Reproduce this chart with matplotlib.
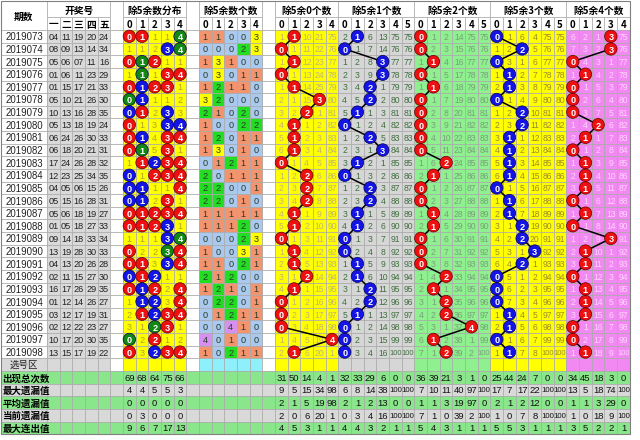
import matplotlib
matplotlib.use("Agg")
import matplotlib.pyplot as plt
from matplotlib.patches import Rectangle, Circle

CJK = ["Noto Sans CJK SC", "DejaVu Sans"]
NUM = ["Liberation Sans", "DejaVu Sans"]

periods = ["2019073", "2019074", "2019075", "2019076", "2019077", "2019078", "2019079",
           "2019080", "2019081", "2019082", "2019083", "2019084", "2019085", "2019086",
           "2019087", "2019088", "2019089", "2019090", "2019091", "2019092", "2019093",
           "2019094", "2019095", "2019096", "2019097", "2019098"]

draws = ["04 11 19 20 24", "08 09 13 14 34", "05 06 07 11 16", "01 06 11 23 29",
         "01 15 17 21 33", "05 10 21 26 30", "10 13 16 28 35", "05 13 18 19 24",
         "06 24 26 30 33", "06 18 20 21 31", "17 24 26 28 32", "12 23 25 34 35",
         "04 05 06 15 26", "05 15 16 28 31", "05 06 18 19 27", "01 05 18 27 33",
         "09 14 18 33 34", "13 19 28 30 33", "04 13 20 26 28", "02 11 15 27 30",
         "16 17 26 29 35", "01 12 14 26 27", "03 12 17 19 31", "02 12 22 23 27",
         "10 17 20 30 35", "13 15 17 19 22"]

# how many of the five numbers leave remainder 0..4
counts = [[1, 1, 0, 0, 3], [0, 0, 0, 2, 3], [1, 3, 1, 0, 0], [0, 3, 0, 1, 1], [1, 2, 1, 1, 0],
          [3, 2, 0, 0, 0], [2, 1, 0, 2, 0], [1, 0, 0, 2, 2], [1, 2, 0, 1, 1], [1, 3, 0, 1, 0],
          [0, 1, 2, 1, 1], [2, 0, 1, 1, 1], [2, 2, 0, 0, 1], [2, 2, 0, 1, 0], [1, 1, 1, 1, 1],
          [1, 1, 1, 2, 0], [0, 0, 0, 2, 3], [1, 0, 0, 3, 1], [1, 1, 0, 2, 1], [2, 1, 2, 0, 0],
          [1, 2, 1, 0, 1], [0, 2, 2, 0, 1], [0, 1, 2, 1, 1], [0, 0, 4, 1, 0], [4, 0, 1, 0, 0],
          [1, 0, 2, 1, 1]]

# omission values, 0 = drawn (ball)
dist_omit = [[0, 0, 1, 1, 0], [1, 1, 2, 0, 0], [0, 0, 0, 1, 1], [1, 0, 1, 0, 0], [0, 0, 0, 0, 1],
             [0, 0, 1, 1, 2], [0, 0, 2, 0, 3], [0, 1, 3, 0, 0], [0, 0, 4, 0, 0], [0, 0, 5, 0, 1],
             [1, 0, 0, 0, 0], [0, 1, 0, 0, 0], [0, 0, 1, 1, 0], [0, 0, 2, 0, 1], [0, 0, 0, 0, 0],
             [0, 0, 0, 0, 1], [1, 1, 1, 0, 0], [0, 2, 2, 0, 0], [0, 0, 3, 0, 0], [0, 0, 0, 1, 1],
             [0, 0, 0, 2, 0], [1, 0, 0, 3, 0], [2, 0, 0, 0, 0], [3, 1, 0, 0, 1], [0, 2, 0, 1, 2],
             [0, 3, 0, 0, 0]]

r0_omit = [[1, 0, 10, 21, 75], [0, 1, 11, 22, 76], [1, 0, 12, 23, 77], [0, 1, 13, 24, 78],
           [1, 0, 14, 25, 79], [2, 1, 15, 0, 80], [3, 2, 0, 1, 81], [4, 0, 1, 2, 82],
           [5, 0, 2, 3, 83], [6, 0, 3, 4, 84], [0, 1, 4, 5, 85], [1, 2, 0, 6, 86],
           [2, 3, 0, 7, 87], [3, 4, 0, 8, 88], [4, 0, 1, 9, 89], [5, 0, 2, 10, 90],
           [0, 1, 3, 11, 91], [1, 0, 4, 12, 92], [2, 0, 5, 13, 93], [3, 1, 0, 14, 94],
           [4, 0, 1, 15, 95], [0, 1, 2, 16, 96], [0, 2, 3, 17, 97], [0, 3, 4, 18, 98],
           [1, 4, 5, 19, 0], [2, 0, 6, 20, 1]]

r1_omit = [[2, 0, 6, 13, 75, 75], [0, 1, 7, 14, 76, 76], [1, 2, 8, 0, 77, 77], [2, 3, 9, 0, 78, 78],
           [3, 4, 0, 1, 79, 79], [4, 5, 0, 2, 80, 80], [5, 0, 1, 3, 81, 81], [0, 1, 2, 4, 82, 82],
           [1, 2, 0, 5, 83, 83], [2, 3, 1, 0, 84, 84], [3, 0, 2, 1, 85, 85], [0, 1, 3, 2, 86, 86],
           [1, 2, 0, 3, 87, 87], [2, 3, 0, 4, 88, 88], [3, 0, 1, 5, 89, 89], [4, 0, 2, 6, 90, 90],
           [0, 1, 3, 7, 91, 91], [0, 2, 4, 8, 92, 92], [1, 0, 5, 9, 93, 93], [2, 0, 6, 10, 94, 94],
           [3, 1, 0, 11, 95, 95], [4, 2, 0, 12, 96, 96], [5, 0, 1, 13, 97, 97], [0, 1, 2, 14, 98, 98],
           [0, 2, 3, 15, 99, 99], [0, 3, 4, 16, 100, 100]]

r2_omit = [[0, 1, 2, 14, 75, 75], [0, 2, 3, 15, 76, 76], [1, 0, 4, 16, 77, 77], [0, 1, 5, 17, 78, 78],
           [1, 0, 6, 18, 79, 79], [0, 1, 7, 19, 80, 80], [0, 2, 8, 20, 81, 81], [0, 3, 9, 21, 82, 82],
           [0, 4, 10, 22, 83, 83], [0, 5, 11, 23, 84, 84], [1, 6, 0, 24, 85, 85], [2, 0, 1, 25, 86, 86],
           [0, 1, 2, 26, 87, 87], [0, 2, 3, 27, 88, 88], [1, 0, 4, 28, 89, 89], [2, 0, 5, 29, 90, 90],
           [0, 1, 6, 30, 91, 91], [0, 2, 7, 31, 92, 92], [0, 3, 8, 32, 93, 93], [1, 4, 0, 33, 94, 94],
           [2, 0, 1, 34, 95, 95], [3, 1, 0, 35, 96, 96], [4, 2, 0, 36, 97, 97], [5, 3, 1, 37, 0, 98],
           [6, 0, 2, 38, 1, 99], [7, 1, 0, 39, 2, 100]]

r3_omit = [[0, 1, 6, 4, 75, 75], [1, 2, 0, 5, 76, 76], [0, 3, 1, 6, 77, 77], [1, 0, 2, 7, 78, 78],
           [2, 0, 3, 8, 79, 79], [0, 1, 4, 9, 80, 80], [1, 2, 0, 10, 81, 81], [2, 3, 0, 11, 82, 82],
           [3, 0, 1, 12, 83, 83], [4, 0, 2, 13, 84, 84], [5, 0, 3, 14, 85, 85], [6, 0, 4, 15, 86, 86],
           [0, 1, 5, 16, 87, 87], [1, 0, 6, 17, 88, 88], [2, 0, 7, 18, 89, 89], [3, 1, 0, 19, 90, 90],
           [4, 2, 0, 20, 91, 91], [5, 3, 1, 0, 92, 92], [6, 4, 0, 1, 93, 93], [0, 5, 1, 2, 94, 94],
           [0, 6, 2, 3, 95, 95], [0, 7, 3, 4, 96, 96], [1, 0, 4, 5, 97, 97], [2, 0, 5, 6, 98, 98],
           [0, 1, 6, 7, 99, 99], [1, 0, 7, 8, 100, 100]]

r4_omit = [[6, 2, 1, 0, 75], [7, 3, 2, 0, 76], [0, 4, 3, 1, 77], [1, 0, 4, 2, 78],
           [0, 1, 5, 3, 79], [0, 2, 6, 4, 80], [0, 3, 7, 5, 81], [1, 4, 0, 6, 82],
           [2, 0, 1, 7, 83], [0, 1, 2, 8, 84], [1, 0, 3, 9, 85], [2, 0, 4, 10, 86],
           [3, 0, 5, 11, 87], [0, 1, 6, 12, 88], [1, 0, 7, 13, 89], [0, 1, 8, 14, 90],
           [1, 2, 9, 0, 91], [2, 0, 10, 1, 92], [3, 0, 11, 2, 93], [0, 1, 12, 3, 94],
           [1, 0, 13, 4, 95], [2, 0, 14, 5, 96], [3, 0, 15, 6, 97], [0, 1, 16, 7, 98],
           [0, 2, 17, 8, 99], [1, 0, 18, 9, 100]]

stat_labels = ["出现总次数", "最大遗漏值", "平均遗漏值", "当前遗漏值", "最大连出值"]
dist_stats = [[69, 68, 64, 75, 66], [4, 4, 5, 5, 3], [0, 0, 0, 0, 0], [0, 3, 0, 0, 0], [9, 6, 7, 17, 13]]
r0_stats = [[31, 50, 14, 4, 1], [9, 5, 15, 34, 98], [2, 1, 5, 19, 98], [2, 0, 6, 20, 1], [4, 5, 3, 1, 1]]
r1_stats = [[32, 33, 29, 6, 0, 0], [6, 8, 14, 38, 100, 100], [2, 1, 2, 13, 0, 0],
            [0, 3, 4, 16, 100, 100], [4, 4, 3, 2, 1, 1]]
r2_stats = [[36, 39, 21, 3, 1, 0], [7, 10, 11, 40, 97, 100], [1, 1, 3, 19, 97, 0],
            [7, 1, 0, 39, 2, 100], [5, 4, 3, 1, 1, 1]]
r3_stats = [[25, 44, 24, 7, 0, 0], [17, 7, 17, 22, 100, 100], [2, 1, 2, 12, 0, 0],
            [1, 0, 7, 8, 100, 100], [5, 5, 3, 1, 1, 1]]
r4_stats = [[34, 45, 18, 3, 0], [13, 5, 18, 74, 100], [1, 1, 3, 29, 0], [1, 0, 18, 9, 100], [3, 5, 2, 2, 1]]

# ---- layout (pixel units, axes spans the whole figure) ----
LEFT, LABEL_W, UW = 1.0, 46.0, 12.67
TOP, H0, H1, RH = 1.0, 16.0, 13.0, 12.63
Y0 = TOP + H0 + H1
GRID = "#a9a9a9"
RED, BLUE, GREEN = "#ee1010", "#1414e6", "#118811"
YELLOW, GRAY, LGREEN, VIOLET = "#ffff00", "#d6d6d6", "#8ef08e", "#f288f2"
STAT_BG = ["#8ae68a", "#d9d9d9"]
COUNT_BG = ["#a9c9ee", "#f3946e", "#22dd22", "#ffff00", "#d690f0"]


def ux(k):
    return LEFT + LABEL_W + k * UW


def ry(i):
    return Y0 + i * RH


fig = plt.figure(figsize=(6.4, 4.4), dpi=100)
ax = fig.add_axes([0, 0, 1, 1])
ax.set_xlim(0, 640)
ax.set_ylim(440, 0)
ax.axis("off")


def cell(x, y, w, h, fc, ec=GRID, lw=0.5, z=1):
    ax.add_patch(Rectangle((x, y), w, h, facecolor=fc, edgecolor=ec, linewidth=lw, zorder=z))


def txt(x, y, s, color="#222222", size=6.6, weight="normal", family=NUM, z=2, ha="center"):
    ax.text(x, y, s, color=color, fontsize=size, fontweight=weight, family=family,
            ha=ha, va="center_baseline", zorder=z)


def ball(k, i, label, fc):
    cx, cy = ux(k) + UW / 2, ry(i) + RH / 2
    ax.add_patch(Circle((cx, cy), 6.2, facecolor=fc, edgecolor="#600000" if fc == RED else "#000050",
                        linewidth=0.5, zorder=4))
    txt(cx, cy + 0.3, str(label), color="white", size=6.6, weight="bold", z=5)


# section: title, first unit, data, background, omission text colour, ball colour, stats
sections = [
    ("除5余0个数", 18, r0_omit, YELLOW, "#c2b472", RED, r0_stats),
    ("除5余1个数", 23, r1_omit, GRAY, "#3f6f3f", BLUE, r1_stats),
    ("除5余2个数", 29, r2_omit, LGREEN, "#7aa07a", RED, r2_stats),
    ("除5余3个数", 35, r3_omit, YELLOW, "#9c8a2c", BLUE, r3_stats),
    ("除5余4个数", 41, r4_omit, VIOLET, "#ffd6ff", RED, r4_stats),
]
blanks = [5, 11, 17]
n = len(periods)

# ---- header ----
cell(LEFT, TOP, LABEL_W, H0 + H1, "white")
txt(LEFT + LABEL_W / 2, TOP + (H0 + H1) / 2, "期数", color="black", size=7, weight="bold", family=CJK)
groups = [("开奖号", 0, list("一二三四五")), ("除5余数分布", 6, list("01234")), ("除5余数个数", 12, list("01234"))]
groups += [(s[0], s[1], [str(j) for j in range(len(s[2][0]))]) for s in sections]
for title, start, subs in groups:
    cell(ux(start), TOP, len(subs) * UW, H0, "white")
    txt(ux(start) + len(subs) * UW / 2, TOP + H0 / 2 + 0.5, title, color="black", size=7,
        weight="bold", family=CJK)
    for j, s in enumerate(subs):
        cell(ux(start + j), TOP + H0, UW, H1, "white")
        txt(ux(start + j) + UW / 2, TOP + H0 + H1 / 2, s, color="black", size=7, weight="bold", family=CJK)
for b in blanks:
    cell(ux(b), TOP, UW, H0 + H1, "white")

# ---- data rows ----
for i in range(n):
    y = ry(i)
    yc = y + RH / 2
    cell(LEFT, y, LABEL_W, RH, "white")
    txt(LEFT + LABEL_W / 2, yc, periods[i], size=6.9)
    for j, num in enumerate(draws[i].split()):
        cell(ux(j), y, UW, RH, "#d9d9d9")
        txt(ux(j) + UW / 2, yc, num, size=6.6)
    for b in blanks:
        cell(ux(b), y, UW, RH, "white")
    for j in range(5):
        cell(ux(6 + j), y, UW, RH, YELLOW)
        if dist_omit[i][j] > 0:
            txt(ux(6 + j) + UW / 2, yc, str(dist_omit[i][j]), color="#b0a232")
        c = counts[i][j]
        cell(ux(12 + j), y, UW, RH, COUNT_BG[c])
        txt(ux(12 + j) + UW / 2, yc, str(c), color="#2a3a2a")
    for title, start, data, bg, tc, bc, st in sections:
        for j, v in enumerate(data[i]):
            cell(ux(start + j), y, UW, RH, bg)
            if v > 0:
                txt(ux(start + j) + UW / 2, yc, str(v), color=tc, size=6.2 if v < 100 else 5.4)

# lines between successive balls
for title, start, data, bg, tc, bc, st in sections:
    pos = [row.index(0) for row in data]
    xs = [ux(start + p) + UW / 2 for p in pos]
    ys = [ry(i) + RH / 2 for i in range(n)]
    ax.plot(xs, ys, color="black", lw=1.1, zorder=3)
    for i, p in enumerate(pos):
        ball(start + p, i, p, bc)

# distribution balls, coloured by how many numbers share the remainder
for i in range(n):
    for j in range(5):
        c = counts[i][j]
        if c > 0:
            ball(6 + j, i, j, RED if c == 1 else BLUE if c == 2 else GREEN)

# ---- 选号区 row ----
y = ry(n)
cell(LEFT, y, LABEL_W, RH, "#d9d9d9")
txt(LEFT + LABEL_W / 2, y + RH / 2, "选号区", size=6.8, family=CJK)
for j in range(5):
    cell(ux(j), y, UW, RH, "#d9d9d9")
    cell(ux(6 + j), y, UW, RH, YELLOW)
    cell(ux(12 + j), y, UW, RH, "#8ef0fa")
for b in blanks:
    cell(ux(b), y, UW, RH, "white")
for title, start, data, bg, tc, bc, st in sections:
    for j in range(len(data[0])):
        cell(ux(start + j), y, UW, RH, bg)

# ---- statistics rows ----
for r, lab in enumerate(stat_labels):
    y = ry(n + 1 + r)
    yc = y + RH / 2
    bg = STAT_BG[r % 2]
    cell(LEFT, y, LABEL_W, RH, bg)
    txt(LEFT + 1.5, yc, lab, color="black", size=6.8, weight="bold", family=CJK, ha="left")
    for k in range(46):
        cell(ux(k), y, UW, RH, bg)
    for j, v in enumerate(dist_stats[r]):
        txt(ux(6 + j) + UW / 2, yc, str(v), color="#111111", size=6.8)
    for title, start, data, sbg, tc, bc, st in sections:
        for j, v in enumerate(st[r]):
            txt(ux(start + j) + UW / 2, yc, str(v), color="#111111", size=6.8 if v < 100 else 5.6)

# outer frame
ax.add_patch(Rectangle((LEFT, TOP), LABEL_W + 46 * UW, ry(n + 6) - TOP, fill=False,
                       edgecolor="#808080", linewidth=0.8, zorder=6))

fig.savefig("out.png", dpi=100)
plt.close(fig)
